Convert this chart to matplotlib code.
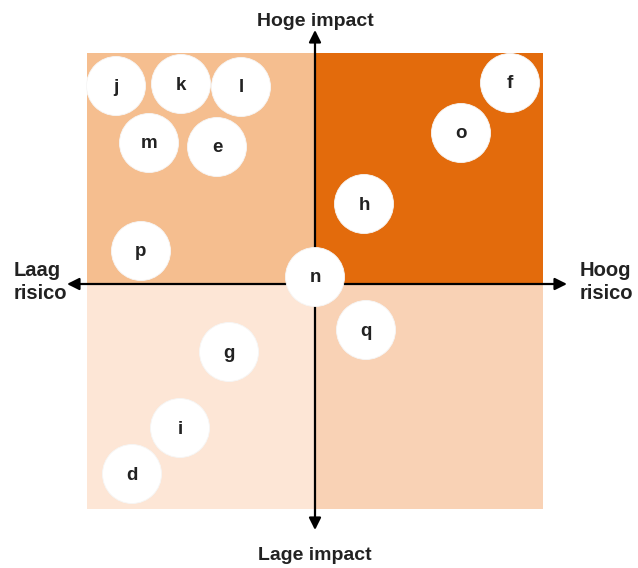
import matplotlib
matplotlib.use("Agg")
import matplotlib.pyplot as plt
from matplotlib.patches import Rectangle, Circle

plt.rcParams['font.family'] = ['Liberation Sans', 'DejaVu Sans']

# Item labels and positions (risk = x, impact = y; origin at axis crossing)
labels = ['j', 'k', 'l', 'f', 'o', 'm', 'e', 'h', 'p', 'n', 'q', 'g', 'i', 'd']
risk   = [-199, -134, -74, 195, 146, -166, -98, 49, -174, 0, 51, -86, -135, -183]
impact = [198, 200, 197, 201, 151, 141, 137, 80, 33, 7, -46, -68, -144, -190]

axis_labels = {'top': 'Hoge impact', 'bottom': 'Lage impact',
               'left': 'Laag\nrisico', 'right': 'Hoog\nrisico'}

quad_colors = {'tl': '#F5BE8F', 'tr': '#E36B0C', 'bl': '#FDE6D6', 'br': '#F9D2B5'}

fig = plt.figure(figsize=(6.38, 5.68), dpi=100)
ax = fig.add_axes([0, 0, 1, 1])
ax.set_xlim(-315, 323)
ax.set_ylim(-284, 284)
ax.set_aspect('auto')
ax.axis('off')

L, R, T, B = -228, 228, 231, -225
ax.add_patch(Rectangle((L, 0), -L, T, color=quad_colors['tl'], lw=0, zorder=0))
ax.add_patch(Rectangle((0, 0), R, T, color=quad_colors['tr'], lw=0, zorder=0))
ax.add_patch(Rectangle((L, B), -L, -B, color=quad_colors['bl'], lw=0, zorder=0))
ax.add_patch(Rectangle((0, B), R, -B, color=quad_colors['br'], lw=0, zorder=0))

ap = dict(arrowstyle='-|>', color='black', lw=1.6, mutation_scale=18, shrinkA=0, shrinkB=0)
ax.annotate('', xy=(252, 0), xytext=(0, 0), arrowprops=ap, zorder=2)
ax.annotate('', xy=(-248, 0), xytext=(0, 0), arrowprops=ap, zorder=2)
ax.annotate('', xy=(0, 254), xytext=(0, 0), arrowprops=ap, zorder=2)
ax.annotate('', xy=(0, -246), xytext=(0, 0), arrowprops=ap, zorder=2)

for lab, x, y in zip(labels, risk, impact):
    ax.add_patch(Circle((x, y), 29.5, facecolor='white', edgecolor='#f6f6f6', lw=0.6, zorder=3))
    ax.text(x, y - 1, lab, ha='center', va='center', fontsize=13.5, fontweight='bold',
            color='#222222', zorder=4)

tc = '#222222'
ax.text(0, 263, axis_labels['top'], ha='center', va='center', fontsize=14, fontweight='bold', color=tc)
ax.text(0, -271, axis_labels['bottom'], ha='center', va='center', fontsize=14, fontweight='bold', color=tc)
ax.text(-301, 2, axis_labels['left'], ha='left', va='center', fontsize=14.5, fontweight='bold',
        color=tc, linespacing=1.3)
ax.text(265, 2, axis_labels['right'], ha='left', va='center', fontsize=14.5, fontweight='bold',
        color=tc, linespacing=1.3)

fig.savefig('out.png', dpi=100, facecolor='white')
